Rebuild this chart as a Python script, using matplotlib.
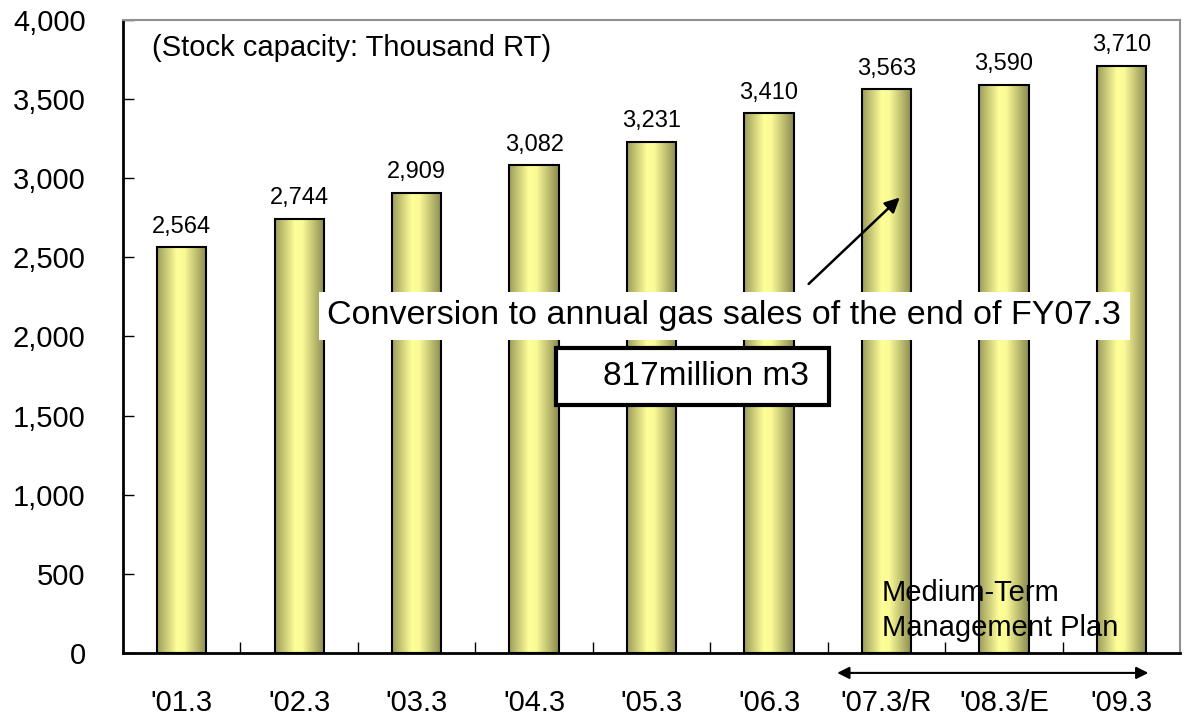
import matplotlib.pyplot as plt
from matplotlib.colors import LinearSegmentedColormap
from matplotlib.patches import Rectangle
import numpy as np

plt.rcParams['font.family'] = ['Liberation Sans', 'DejaVu Sans']

periodos = ["'01.3", "'02.3", "'03.3", "'04.3", "'05.3", "'06.3", "'07.3/R", "'08.3/E", "'09.3"]
capacidade = [2564, 2744, 2909, 3082, 3231, 3410, 3563, 3590, 3710]
y_ticks = [0, 500, 1000, 1500, 2000, 2500, 3000, 3500, 4000]

# gradiente horizontal das barras (escuro nas bordas, claro perto do centro)
grad = LinearSegmentedColormap.from_list(
    'barra', [(0.0, '#9c9c5c'), (0.4, '#ffff99'), (0.55, '#fafa96'), (1.0, '#8a8a50')])

fig = plt.figure(figsize=(11.9, 7.22), dpi=100)
ax = fig.add_axes([0.1034, 0.0956, 0.8883, 0.8767])

x = np.arange(len(periodos))
largura = 0.42
barras = ax.bar(x, capacidade, width=largura, color='none', edgecolor='black',
                linewidth=1.5, zorder=3)

faixa = np.linspace(0, 1, 256).reshape(1, -1)
for b in barras:
    x0, y0 = b.get_x(), b.get_y()
    w, h = b.get_width(), b.get_height()
    img = ax.imshow(faixa, cmap=grad, aspect='auto', extent=[x0, x0 + w, y0, y0 + h],
                    zorder=2, interpolation='bilinear')
    img.set_clip_path(b)

# valores no topo das barras
for xi, yi in zip(x, capacidade):
    ax.text(xi, yi + 60, f'{yi:,}', ha='center', va='bottom', fontsize=17)

ax.set_xlim(-0.5, len(periodos) - 0.5)
ax.set_ylim(0, 4000)
ax.set_yticks(y_ticks)
ax.set_yticklabels([f'{v:,}' for v in y_ticks], fontsize=21)
ax.set_xticks(x)
ax.set_xticklabels(periodos, fontsize=21)
ax.set_xticks(np.arange(0.5, len(periodos) - 1, 1), minor=True)
ax.tick_params(axis='x', which='major', length=0, pad=26)
ax.tick_params(axis='x', which='minor', direction='in', length=8, width=1)
ax.tick_params(axis='y', direction='in', length=8, width=1, pad=27)

for lado in ['left', 'bottom']:
    ax.spines[lado].set_linewidth(2)
for lado in ['top', 'right']:
    ax.spines[lado].set_color('#909090')
    ax.spines[lado].set_linewidth(1.5)

ax.text(0.027, 0.955, '(Stock capacity: Thousand RT)', transform=ax.transAxes,
        fontsize=21, ha='left', va='center')

# seta e caixa de conversão
ax.annotate('', xy=(6.13, 2890), xytext=(5.32, 2320),
            arrowprops=dict(arrowstyle='-|>', color='black', lw=1.8, mutation_scale=22),
            zorder=5)
ax.text(4.62, 2130, 'Conversion to annual gas sales of the end of FY07.3', fontsize=24.5,
        ha='center', va='center', zorder=6,
        bbox=dict(boxstyle='square,pad=0.25', facecolor='white', edgecolor='none'))
ax.add_patch(Rectangle((3.19, 1567), 2.32, 360, facecolor='white', edgecolor='black',
                       linewidth=3, zorder=6))
ax.text(5.34, 1750, '817million m3', fontsize=24, ha='right', va='center', zorder=7)

ax.text(5.96, 270, 'Medium-Term\nManagement Plan', fontsize=21, ha='left', va='center',
        linespacing=1.3, zorder=6)

# seta dupla do plano de médio prazo, abaixo do eixo
ax.annotate('', xy=(5.58, -126), xytext=(8.23, -126), xycoords='data',
            arrowprops=dict(arrowstyle='<|-|>', color='black', lw=1.5, mutation_scale=18,
                            shrinkA=0, shrinkB=0),
            annotation_clip=False)

fig.savefig('out.png', dpi=100)
plt.close()
